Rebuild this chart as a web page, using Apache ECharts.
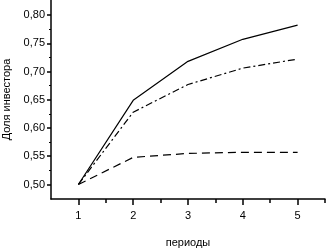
<!DOCTYPE html>
<html>
<head>
<meta charset="utf-8">
<script src="https://cdn.jsdelivr.net/npm/echarts@6/dist/echarts.min.js"></script>
<style>
html, body { margin: 0; padding: 0; background: #fff; }
#chart { width: 326px; height: 250px; }
</style>
</head>
<body>
<div id="chart"></div>
<script>
var periods = [1, 2, 3, 4, 5];
var solidLine = [0.500, 0.649, 0.718, 0.757, 0.782];
var dashDotLine = [0.500, 0.628, 0.677, 0.706, 0.722];
var dashedLine = [0.500, 0.548, 0.555, 0.557, 0.557];
var yTicks = [0.50, 0.55, 0.60, 0.65, 0.70, 0.75, 0.80];
var yMinor = [0.525, 0.575, 0.625, 0.675, 0.725, 0.775];
var xMinor = [1.5, 2.5, 3.5, 4.5, 5.5];

function pairs(vals) {
    return periods.map(function (p, i) { return [p, vals[i]]; });
}

var font = 'Liberation Sans, Arial, sans-serif';
var myChart = echarts.init(document.getElementById('chart'));
var option = {
    animation: false,
    grid: { left: 51, right: 1, top: 0, bottom: 51, containLabel: false, outerBoundsMode: 'none' },
    xAxis: [
        {
            type: 'value',
            min: 0.5,
            max: 5.5,
            name: 'периоды',
            nameLocation: 'middle',
            nameGap: 38,
            nameTextStyle: { color: '#000', fontSize: 11, fontFamily: font },
            axisLine: { show: true, lineStyle: { color: '#000', width: 1.5 } },
            axisTick: { show: true, length: 6, customValues: periods, lineStyle: { color: '#000', width: 1.5 } },
            axisLabel: { customValues: periods, color: '#000', fontSize: 11, fontFamily: font, margin: 11 },
            splitLine: { show: false }
        },
        {
            type: 'value',
            min: 0.5,
            max: 5.5,
            position: 'bottom',
            axisLine: { show: false },
            axisTick: { show: true, length: 4, customValues: xMinor, lineStyle: { color: '#000', width: 1.5 } },
            axisLabel: { show: false },
            splitLine: { show: false }
        }
    ],
    yAxis: [
        {
            type: 'value',
            min: 0.4743,
            max: 0.8266,
            name: 'Доля инвестора',
            nameLocation: 'middle',
            nameGap: 38,
            nameTextStyle: { color: '#000', fontSize: 11, fontFamily: font },
            axisLine: { show: true, lineStyle: { color: '#000', width: 1.5 } },
            axisTick: { show: true, length: 4, customValues: yTicks, lineStyle: { color: '#000', width: 1.5 } },
            axisLabel: {
                customValues: yTicks,
                color: '#000', fontSize: 11, fontFamily: font, margin: 6,
                formatter: function (v) { return v.toFixed(2).replace('.', ','); }
            },
            splitLine: { show: false }
        },
        {
            type: 'value',
            min: 0.4743,
            max: 0.8266,
            position: 'left',
            axisLine: { show: false },
            axisTick: { show: true, length: 2, customValues: yMinor, lineStyle: { color: '#000', width: 1 } },
            axisLabel: { show: false },
            splitLine: { show: false }
        }
    ],
    series: [
        {
            type: 'line',
            data: pairs(solidLine),
            showSymbol: false,
            lineStyle: { color: '#000', width: 1.2, type: 'solid' }
        },
        {
            type: 'line',
            data: pairs(dashDotLine),
            showSymbol: false,
            lineStyle: { color: '#000', width: 1.2, type: [7, 3, 2, 3] }
        },
        {
            type: 'line',
            data: pairs(dashedLine),
            showSymbol: false,
            lineStyle: { color: '#000', width: 1.2, type: [8, 5] }
        }
    ]
};
myChart.setOption(option);
</script>
</body>
</html>
